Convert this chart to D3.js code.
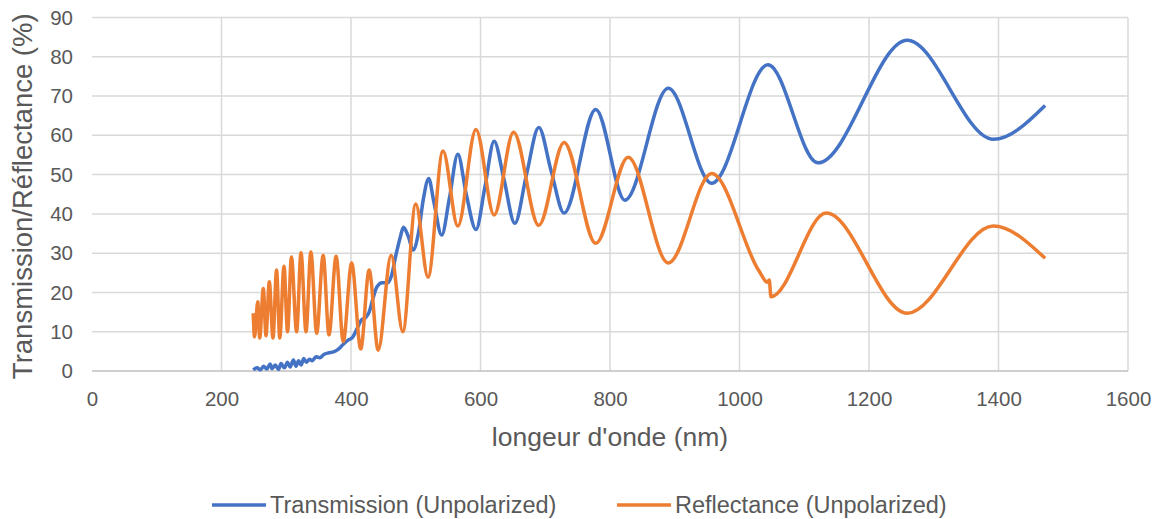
<!DOCTYPE html>
<html><head><meta charset="utf-8">
<script src="https://cdn.jsdelivr.net/npm/d3@7"></script>
<style>body{margin:0;background:#fff}text{font-family:"Liberation Sans",Arial,sans-serif;fill:#595959}</style>
</head><body>
<svg id="c" width="1161" height="519"></svg>
<script>
const xTicks = [0,200,400,600,800,1000,1200,1400,1600];
const yTicks = [0,10,20,30,40,50,60,70,80,90];
const seriesNames = ["Transmission (Unpolarized)","Reflectance (Unpolarized)"];
const transWl = [249,255,260,265,270,275,278,283,288,292,297,302,306,311,315,319,323,327,331,336,340,346,352,358,365,372,380,388,395,402,410,416,422,428,434,440,448,456,462,470,476,481,488,496,504,512,520,528,540,552,565,578,593,607,621,636,653,671,690,709,729,778,823,890,957,1044,1121,1259,1392,1472];
const transVal = [0.3,0.8,0.3,1.2,0.5,1.8,0.6,1.5,0.4,1.9,0.8,2.2,1.0,2.8,1.2,2.6,1.5,3.2,2.2,3.0,2.6,3.6,3.4,4.2,4.6,4.8,5.5,6.8,7.8,8.5,11,13,13.5,15,18.5,21.4,22.5,22.4,24,30,34,36.6,34.5,30.8,35,44,49,43,34.6,44,55.2,45,36,47,58.5,49,37.6,50,62,51,40.2,66.6,43.5,72,47.8,78,53,84.2,59,67.6];
const reflWl = [249,251,256,259,264.6,268.7,273.8,279.5,285,290,296.5,302,308,316,322.8,330.5,338,347,357,366,377,388,401,415,428,442,462,480,500,519,542,565,593,621,651,690,729,778,828,890,957,1030,1043,1046,1048.5,1134,1259,1392,1472];
const reflVal = [14.7,8.7,17.6,8.4,21.0,9.0,22.7,8.4,25.7,8.4,26.7,10,29,10,30.1,10,30.3,9.6,29.5,9.2,29.2,7.5,27.5,5.6,25.7,5.3,29.5,10,42.5,23.9,56,36.9,61.5,39.7,60.8,37.1,58.2,32.5,54.4,27.5,50.3,25.5,22.6,23.2,18.9,40.2,14.7,36.9,28.7];
const colors = ["#4472C4","#ED7D31"];

const svg = d3.select("#c");
const L=92,R=1128,T=17.5,B=371;
const x = d3.scaleLinear().domain([0,1600]).range([L,R]);
const y = d3.scaleLinear().domain([0,90]).range([B,T]);

svg.append("g").selectAll("line").data(yTicks.filter(d=>d>0)).join("line")
  .attr("x1",L).attr("x2",R).attr("y1",d=>y(d)).attr("y2",d=>y(d))
  .attr("stroke","#d9d9d9").attr("stroke-width",1.5);
svg.append("g").selectAll("line").data(xTicks.filter(d=>d>0)).join("line")
  .attr("x1",d=>x(d)).attr("x2",d=>x(d)).attr("y1",T).attr("y2",B)
  .attr("stroke","#d9d9d9").attr("stroke-width",1.5);
svg.append("line").attr("x1",L).attr("x2",R).attr("y1",B).attr("y2",B).attr("stroke","#bfbfbf").attr("stroke-width",1.5);

const gx = svg.append("g").attr("transform",`translate(0,${B})`)
  .call(d3.axisBottom(x).tickValues(xTicks).tickSize(0).tickPadding(20).tickFormat(d3.format("d")));
gx.select(".domain").remove();
gx.selectAll("text").style("font-size","20.5px").attr("fill","#595959");
const gy = svg.append("g").attr("transform",`translate(${L},0)`)
  .call(d3.axisLeft(y).tickValues(yTicks).tickSize(0).tickPadding(19));
gy.select(".domain").remove();
gy.selectAll("text").style("font-size","20.5px").attr("fill","#595959");

svg.append("text").attr("x",(L+R)/2).attr("y",446).attr("text-anchor","middle")
  .style("font-size","26.5px").text("longeur d'onde (nm)");
svg.append("text").attr("transform",`translate(32,${(T+B)/2+2}) rotate(-90)`).attr("text-anchor","middle")
  .style("font-size","27.5px").text("Transmission/Réflectance (%)");

const line = d3.line().curve(d3.curveMonotoneX).x(d=>x(d[0])).y(d=>y(d[1]));
const tData = transWl.map((w,i)=>[w,transVal[i]]);
const rData = reflWl.map((w,i)=>[w,reflVal[i]]);
svg.append("path").datum(tData).attr("d",line).attr("fill","none").attr("stroke",colors[0]).attr("stroke-width",3.5).attr("stroke-linejoin","round");
svg.append("path").datum(rData).attr("d",line).attr("fill","none").attr("stroke",colors[1]).attr("stroke-width",3.5).attr("stroke-linejoin","round");

const legX=[212,617];
seriesNames.forEach((n,i)=>{
  svg.append("line").attr("x1",legX[i]).attr("x2",legX[i]+54).attr("y1",505).attr("y2",505)
    .attr("stroke",colors[i]).attr("stroke-width",3.5);
  svg.append("text").attr("x",legX[i]+58).attr("y",513).style("font-size","23.5px").text(n);
});
</script>
</body></html>
